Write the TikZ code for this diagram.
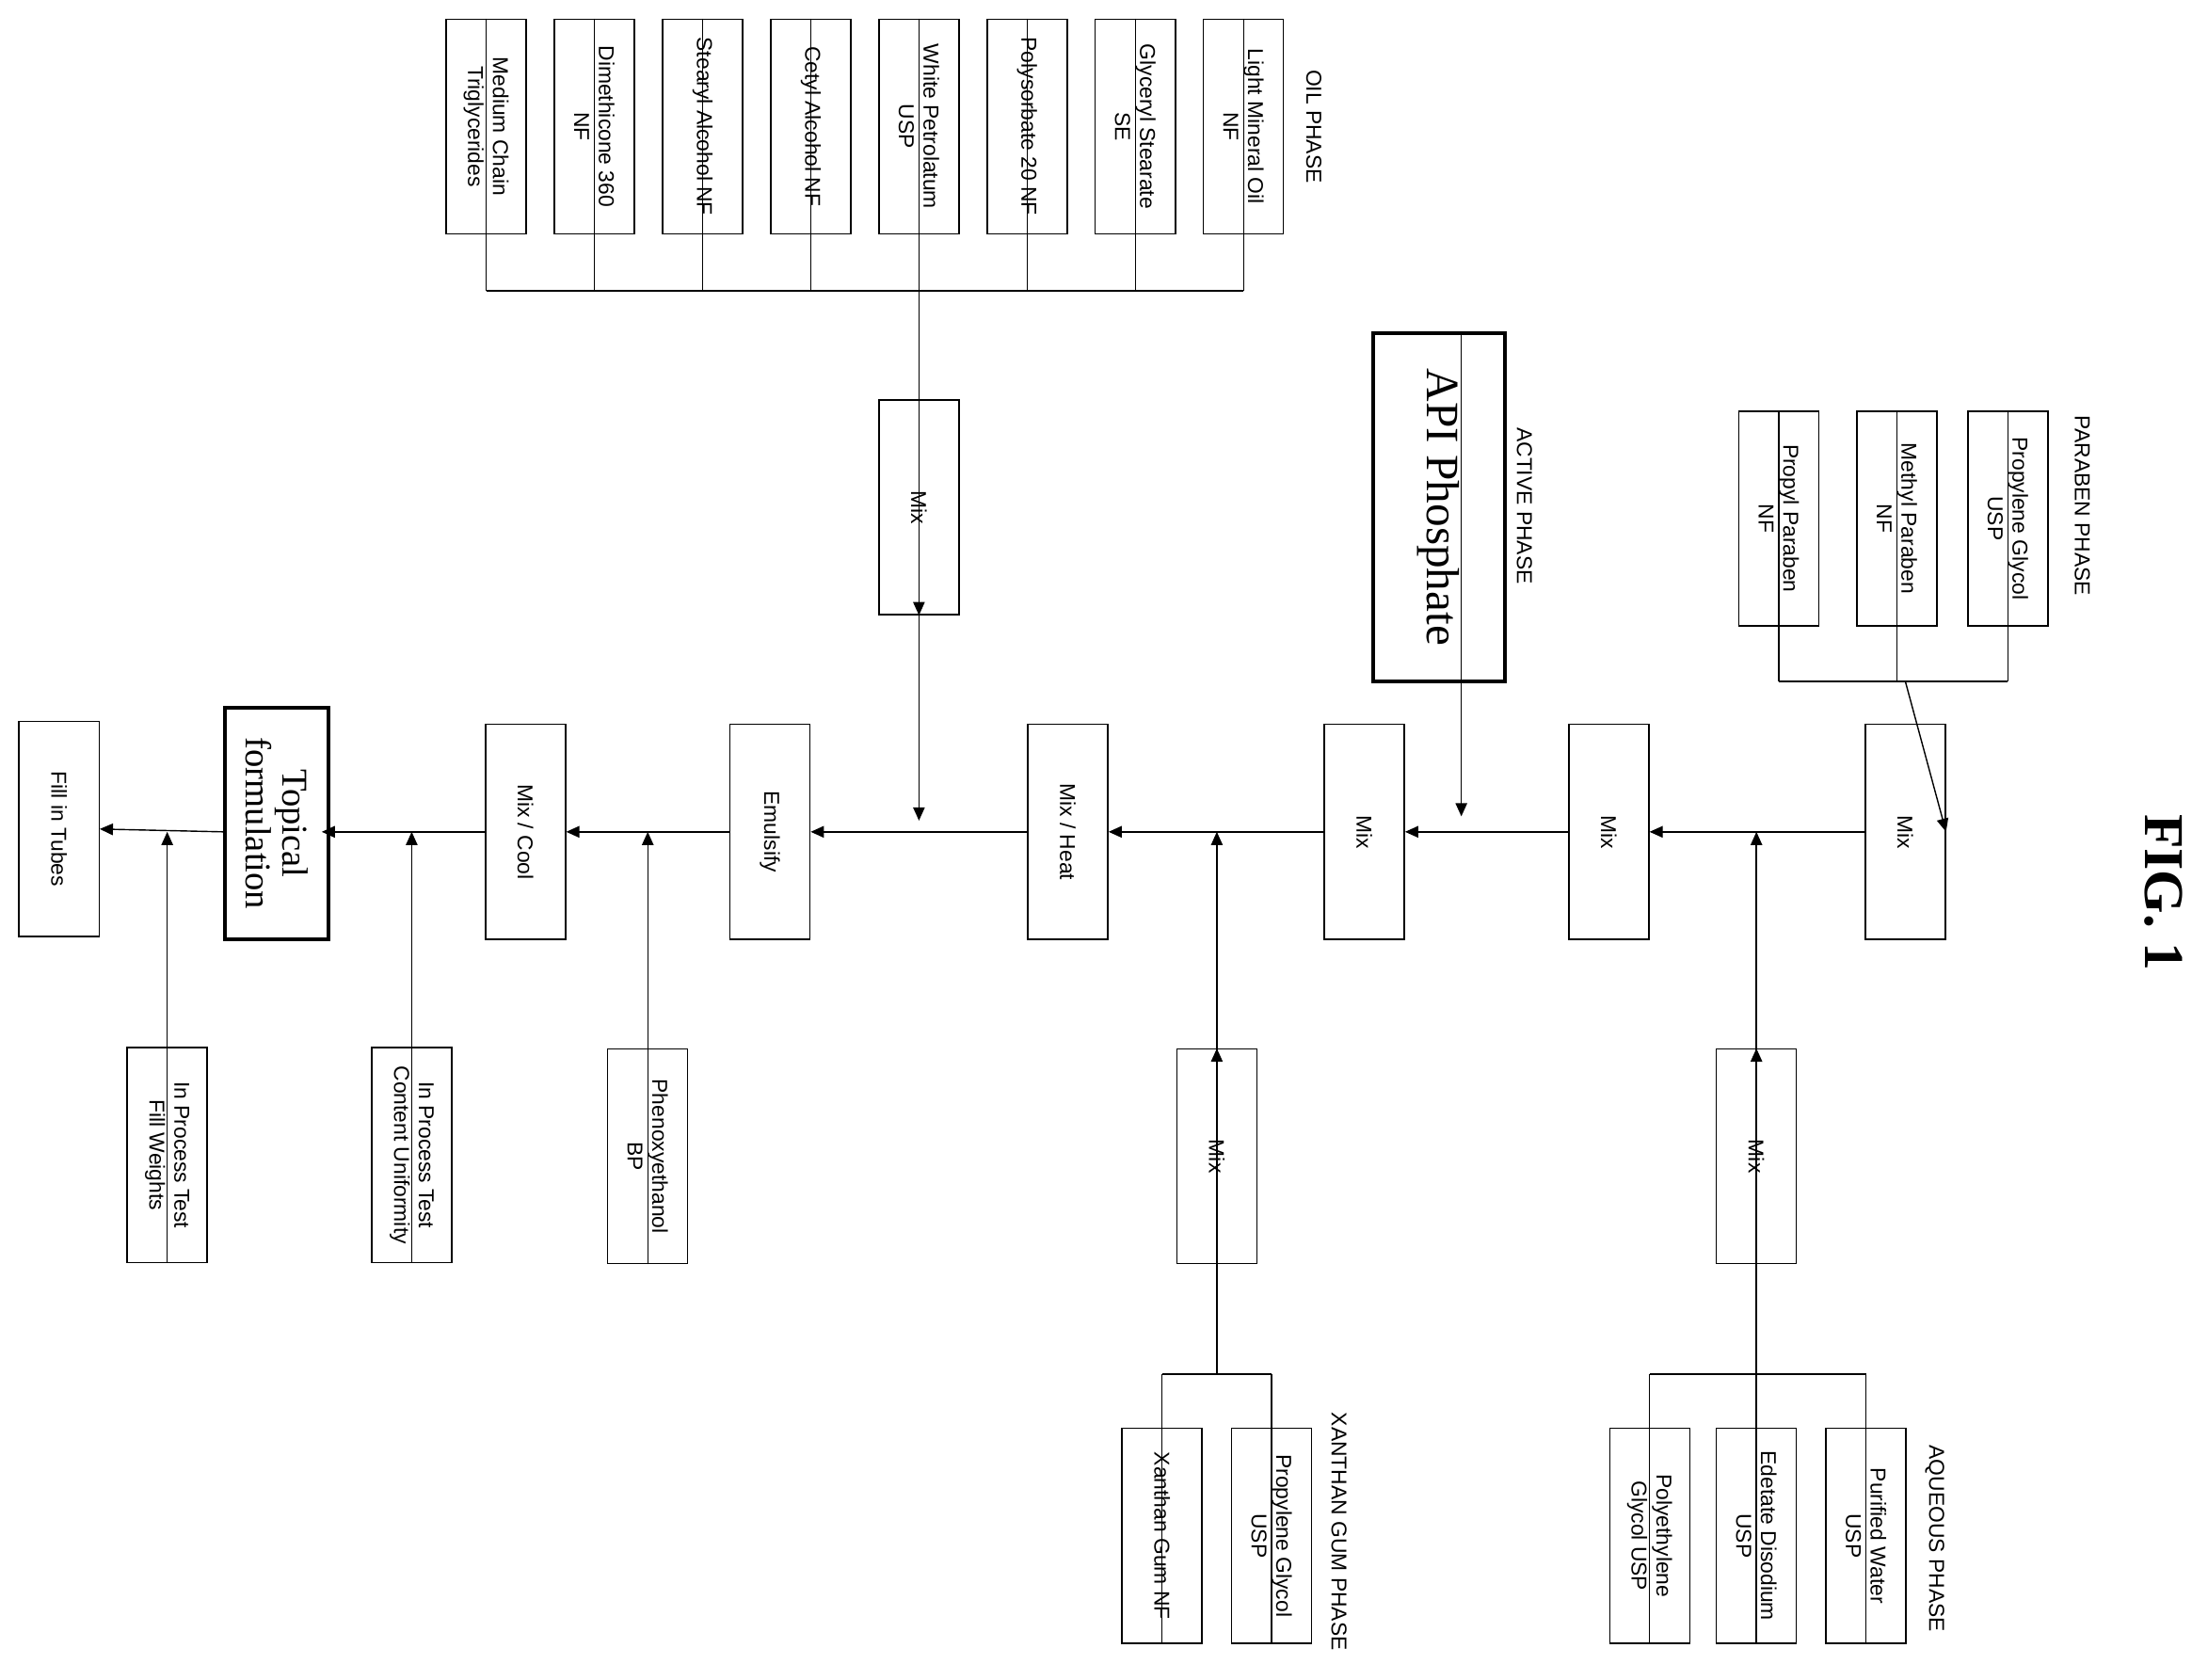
\documentclass[tikz,border=0pt]{standalone}
\usepackage{fontspec}
\setmainfont{Liberation Sans}
\newfontfamily\serifont{Liberation Serif}
\usetikzlibrary{arrows.meta}
\tikzset{
  box/.style={draw,rotate=-90,align=center,font=\fontsize{6.5}{7.5}\selectfont,minimum width=2.28cm,minimum height=0.85cm,inner sep=1pt},
  phase/.style={rotate=-90,font=\fontsize{6.5}{7.5}\selectfont},
  arr/.style={-{Triangle[length=4pt,width=3.5pt]}},
}
\begin{document}
\begin{tikzpicture}[x=0.01493cm,y=-0.01493cm,thin]
\useasboundingbox (0,0) rectangle (1560,1195);

% oil phase
\node (o1) at (346,90) [box] {Medium Chain\\Triglycerides};
\node (o2) at (423,90) [box] {Dimethicone 360\\NF};
\node (o3) at (500,90) [box] {Stearyl Alcohol NF};
\node (o4) at (577,90) [box] {Cetyl Alcohol NF};
\node (o5) at (654,90) [box] {White Petrolatum\\USP};
\node (o6) at (731,90) [box] {Polysorbate 20 NF};
\node (o7) at (808,90) [box] {Glyceryl Stearate\\SE};
\node (o8) at (885,90) [box] {Light Mineral Oil\\NF};
\node (oil) at (935,90) [phase] {OIL PHASE};
\coordinate (ob1) at (346,207);
\coordinate (ob8) at (885,207);
\coordinate (ob5) at (654,207);
\draw (ob1) -- (ob8);
\foreach \i in {1,2,3,4,5,6,7,8} \draw (o\i.west) -- (o\i.west |- ob1);
\node (omix) at (654,361) [box] {Mix};
\draw [arr] (ob5) -- (omix.east);

% paraben phase
\node (p1) at (1266,369) [box] {Propyl Paraben\\NF};
\node (p2) at (1350,369) [box] {Methyl Paraben\\NF};
\node (p3) at (1429,369) [box] {Propylene Glycol\\USP};
\node (par) at (1482,360) [phase] {PARABEN PHASE};
\coordinate (pb1) at (1266,485);
\coordinate (pb3) at (1429,485);
\draw (pb1) -- (pb3);
\foreach \i in {1,2,3} \draw (p\i.west) -- (p\i.west |- pb1);

% main line
\node (m1) at (1356,592) [box] {Mix};
\node (m2) at (1145,592) [box] {Mix};
\node (m3) at (971,592) [box] {Mix};
\node (m4) at (760,592) [box] {Mix / Heat};
\node (m5) at (548,592) [box] {Emulsify};
\node (m6) at (374,592) [box] {Mix / Cool};
\node (top) at (200,586) [draw,fill=white,rotate=-90,minimum width=2.28cm,minimum height=0.85cm] {};
\node (tf) at (197,586) [draw,very thick,fill=white,rotate=-90,align=center,font=\serifont\fontsize{11}{11}\selectfont,minimum width=2.46cm,minimum height=1.1cm,inner sep=1pt] {Topical\\formulation};
\node (fill) at (42,590) [box] {Fill in Tubes};
\draw [arr] (m1.east |- pb1) -- (m1.north);
\draw [arr] (m1.south) -- (m2.north);
\draw [arr] (m2.south) -- (m3.north);
\draw [arr] (m3.south) -- (m4.north);
\draw [arr] (m4.south) -- (m5.north);
\draw [arr] (m5.south) -- (m6.north);
\draw [arr] (m6.south) -- (top.north |- m6.south);
\draw [arr] (tf.south |- m6.south) -- (fill.north);

% active phase
\node (api) at (1024,361) [draw,very thick,rotate=-90,font=\serifont\fontsize{14}{14}\selectfont,minimum width=3.7cm,minimum height=1.4cm] {API Phosphate};
\node (act) at (1085,360) [phase] {ACTIVE PHASE};
\coordinate (apiend) at (1040,581);
\draw [arr] (api.west -| apiend) -- (apiend);
\coordinate (oilend) at (654,584);
\draw [arr] (omix.west) -- (oilend);

% aqueous phase
\node (a1) at (1174,1093) [box] {Polyethylene\\Glycol USP};
\node (a2) at (1250,1093) [box] {Edetate Disodium\\USP};
\node (a3) at (1328,1093) [box] {Purified Water\\USP};
\node (aq) at (1377,1095) [phase] {AQUEOUS PHASE};
\coordinate (ab1) at (1174,978);
\coordinate (ab3) at (1328,978);
\draw (ab1) -- (ab3);
\foreach \i in {1,2,3} \draw (a\i.east) -- (a\i.east |- ab1);
\node (amix) at (1250,823) [box] {Mix};
\draw [arr] (amix.west |- ab1) -- (amix.west);
\draw [arr] (amix.east) -- (amix.east |- m1.center);

% xanthan gum phase
\node (x1) at (827,1093) [box] {Xanthan Gum NF};
\node (x2) at (905,1093) [box] {Propylene Glycol\\USP};
\node (xg) at (953,1090) [phase] {XANTHAN GUM PHASE};
\coordinate (xb1) at (827,978);
\coordinate (xb2) at (905,978);
\draw (xb1) -- (xb2);
\foreach \i in {1,2} \draw (x\i.east) -- (x\i.east |- xb1);
\node (xmix) at (866,823) [box] {Mix};
\draw [arr] (xmix.west |- xb1) -- (xmix.west);
\draw [arr] (xmix.east) -- (xmix.east |- m1.center);

% additions
\node (phe) at (461,823) [box] {Phenoxyethanol\\BP};
\node (cu) at (293,822) [box] {In Process Test\\Content Uniformity};
\node (fw) at (119,822) [box] {In Process Test\\Fill Weights};
\foreach \n in {phe,cu,fw} \draw [arr] (\n.east) -- (\n.east |- m1.center);

\node (fig) at (1540,635) [rotate=-90,font=\serifont\bfseries\fontsize{17}{17}\selectfont] {FIG. 1};
\end{tikzpicture}
\end{document}
